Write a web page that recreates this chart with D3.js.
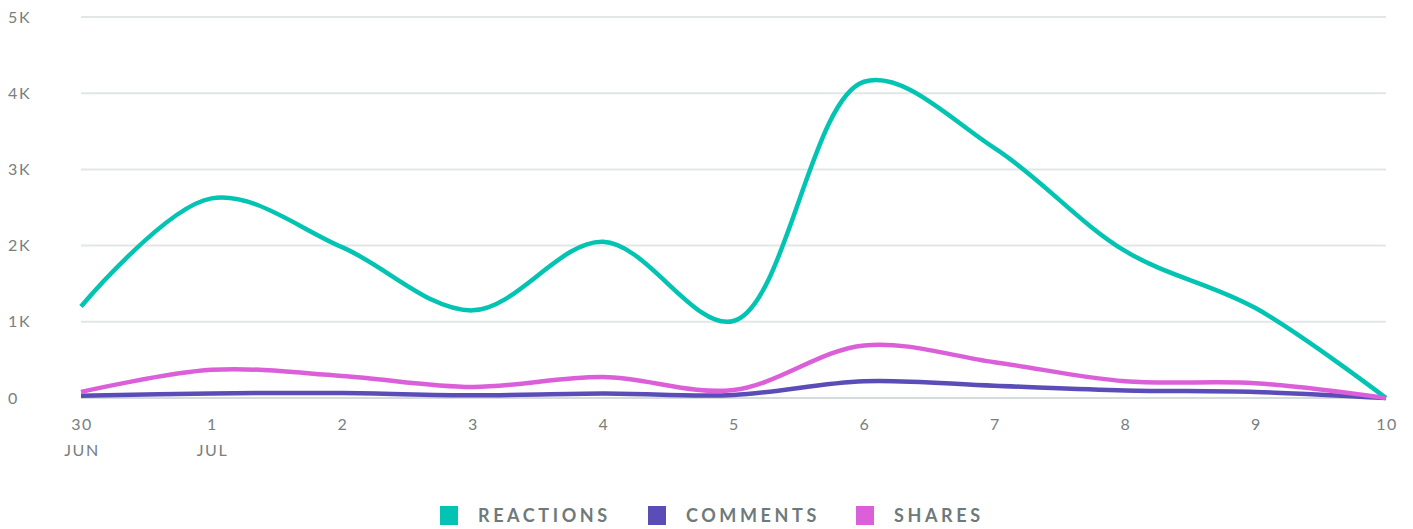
<!DOCTYPE html>
<html>
<head>
<meta charset="utf-8">
<script src="https://cdn.jsdelivr.net/npm/d3@7"></script>
<style>
  body { margin: 0; background: #fff; }
  svg { display: block; font-family: "Lato", "Open Sans", sans-serif; }
</style>
</head>
<body>
<svg width="1413" height="529"></svg>
<script>
const days = ["30", "1", "2", "3", "4", "5", "6", "7", "8", "9", "10"];
const months = ["JUN", "JUL", "", "", "", "", "", "", "", "", ""];
const reactions = [1200, 2620, 1980, 1150, 2050, 1010, 4150, 3280, 1930, 1180, 0];
const comments = [30, 60, 65, 35, 60, 40, 220, 160, 100, 80, 0];
const shares = [80, 370, 290, 145, 275, 105, 690, 470, 220, 195, 0];
const yTicks = [0, 1000, 2000, 3000, 4000, 5000];
const seriesNames = ["REACTIONS", "COMMENTS", "SHARES"];
const seriesColors = ["#03c4b2", "#5b4db7", "#dc5fda"];

const svg = d3.select("svg");
const margin = { top: 17, right: 27, bottom: 131, left: 81 };
const width = +svg.attr("width") - margin.left - margin.right;
const height = +svg.attr("height") - margin.top - margin.bottom;

const chart = svg.append("g")
  .attr("transform", `translate(${margin.left},${margin.top})`);

const x = d3.scalePoint()
  .domain(d3.range(days.length))
  .range([0, width]);

const y = d3.scaleLinear()
  .domain([0, 5000])
  .range([height, 0]);

// Gridlines
chart.append("g")
  .selectAll("line")
  .data(yTicks)
  .enter().append("line")
  .attr("x1", 0)
  .attr("x2", width)
  .attr("y1", d => y(d))
  .attr("y2", d => y(d))
  .attr("stroke", d => d === 0 ? "#d6dbdb" : "#e3e6e6")
  .attr("stroke-width", 2);

// Y labels
svg.append("g")
  .selectAll("text")
  .data(yTicks)
  .enter().append("text")
  .attr("x", 8)
  .attr("y", d => margin.top + y(d))
  .attr("dy", "0.35em")
  .attr("fill", "#77807f")
  .style("font-size", "16px")
  .style("letter-spacing", "1.6px")
  .text(d => d === 0 ? "0" : (d / 1000) + "K");

// X labels
const xl = chart.append("g")
  .selectAll("g")
  .data(d3.range(days.length))
  .enter().append("g")
  .attr("transform", d => `translate(${x(d)},${height})`);

xl.append("text")
  .attr("x", 1)
  .attr("y", 26)
  .attr("dy", "0.35em")
  .attr("text-anchor", "middle")
  .attr("fill", "#77807f")
  .style("font-size", "16px")
  .style("letter-spacing", "1.6px")
  .text(d => days[d]);

xl.append("text")
  .attr("x", 1)
  .attr("y", 52)
  .attr("dy", "0.35em")
  .attr("text-anchor", "middle")
  .attr("fill", "#77807f")
  .style("font-size", "16px")
  .style("letter-spacing", "1.6px")
  .text(d => months[d]);

// Lines
const line = d3.line()
  .x((d, i) => x(i))
  .y(d => y(d))
  .curve(d3.curveCatmullRom.alpha(0.5));

[reactions, comments, shares].forEach((vals, k) => {
  chart.append("path")
    .datum(vals)
    .attr("fill", "none")
    .attr("stroke", seriesColors[k])
    .attr("stroke-width", 4.5)
    .attr("stroke-linejoin", "round")
    .attr("d", line);
});

// Legend
const legend = svg.append("g")
  .attr("transform", "translate(440,506)");

const items = legend.selectAll("g")
  .data(seriesNames)
  .enter().append("g")
  .attr("transform", (d, i) => `translate(${i * 208},0)`);

items.append("rect")
  .attr("width", 18)
  .attr("height", 19)
  .attr("fill", (d, i) => seriesColors[i]);

items.append("text")
  .attr("x", 38)
  .attr("y", 9.5)
  .attr("dy", "0.36em")
  .attr("fill", "#6e7a7a")
  .style("font-size", "18px")
  .style("font-weight", "700")
  .style("letter-spacing", "3.6px")
  .text(d => d);
</script>
</body>
</html>
